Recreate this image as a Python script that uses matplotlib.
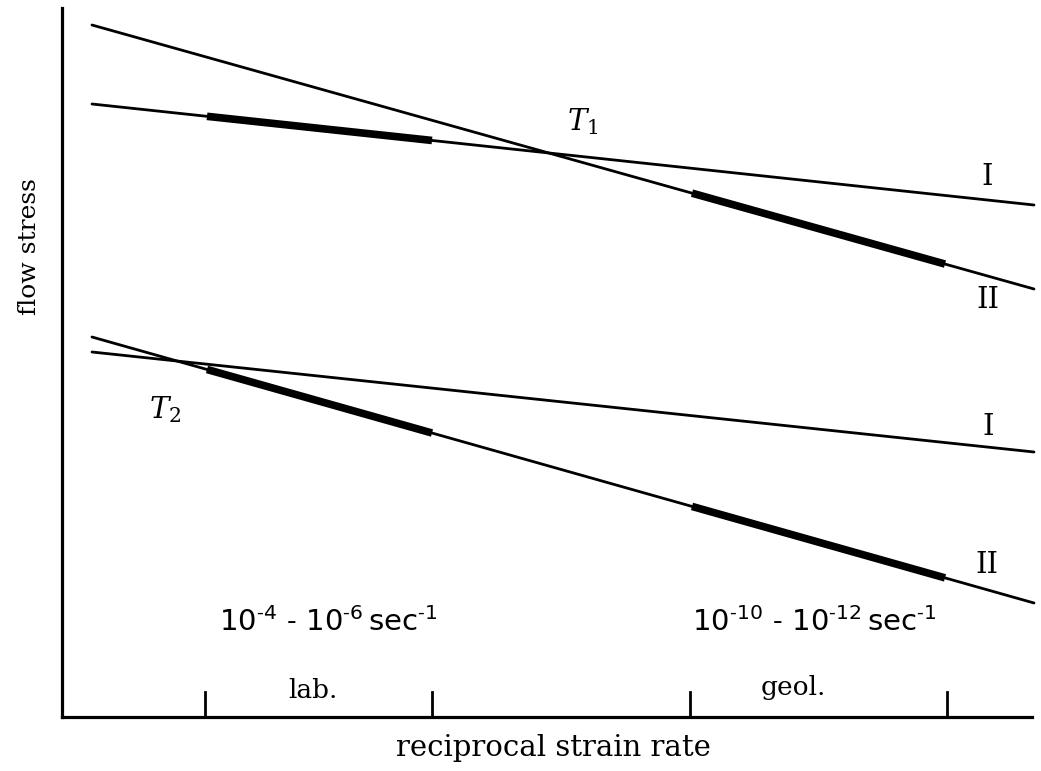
import numpy as np
import matplotlib.pyplot as plt

plt.rcParams['mathtext.fontset'] = 'custom'
plt.rcParams['mathtext.rm'] = 'Liberation Sans'

# straight lines (reciprocal strain rate, flow stress) in arbitrary units
line_x = [30, 972]
upper_I = [613, 512]
upper_II = [692, 428]
lower_I = [365, 265]
lower_II = [380, 114]

# strain-rate windows (thick parts of the lines)
lab_range = [145, 370]
geol_range = [630, 883]
ticks = [143, 370, 628, 885]

fig = plt.figure(figsize=(10.41, 7.71), dpi=100)
ax = fig.add_axes([62 / 1041, 54 / 771, 970 / 1041, 709 / 771])
ax.set_xlim(0, 970)
ax.set_ylim(0, 709)
for s in ['top', 'right']:
    ax.spines[s].set_visible(False)
for s in ['left', 'bottom']:
    ax.spines[s].set_linewidth(2.3)
ax.set_xticks([])
ax.set_yticks([])

def seg(ys, xr):
    return xr, np.interp(xr, line_x, ys)

for ys in [upper_I, upper_II, lower_I, lower_II]:
    ax.plot(line_x, ys, color='black', lw=2, solid_capstyle='round', clip_on=False)

for ys, xr in [(upper_I, lab_range), (upper_II, geol_range),
               (lower_II, lab_range), (lower_II, geol_range)]:
    sx, sy = seg(ys, xr)
    ax.plot(sx, sy, color='black', lw=5.5, solid_capstyle='butt')

for t in ticks:
    ax.plot([t, t], [0, 25], color='black', lw=2, clip_on=False)

serif = 'DejaVu Serif'
ax.text(521, 595, r'$T_1$', fontsize=21, ha='center', va='center',
        math_fontfamily='dejavuserif')
ax.text(103, 307, r'$T_2$', fontsize=21, ha='center', va='center',
        math_fontfamily='dejavuserif')
ax.text(925, 540, 'I', family=serif, fontsize=21, ha='center', va='center')
ax.text(926, 417, 'II', family=serif, fontsize=21, ha='center', va='center')
ax.text(926, 290, 'I', family=serif, fontsize=21, ha='center', va='center')
ax.text(925, 152, 'II', family=serif, fontsize=21, ha='center', va='center')

ax.text(266, 95, r'$\mathregular{10^{\text{-}4}\ \text{-}\ 10^{\text{-}6}\,sec^{\text{-}1}}$',
        fontsize=21, ha='center', va='center')
ax.text(752, 95, r'$\mathregular{10^{\text{-}10}\ \text{-}\ 10^{\text{-}12}\,sec^{\text{-}1}}$',
        fontsize=21, ha='center', va='center')
ax.text(251, 27, 'lab.', family=serif, fontsize=19, ha='center', va='center')
ax.text(731, 29, 'geol.', family=serif, fontsize=19, ha='center', va='center')

ax.text(491, -31, 'reciprocal strain rate', family=serif, fontsize=21,
        ha='center', va='center', clip_on=False)
ax.text(-33, 470, 'flow stress', family=serif, fontsize=18, rotation=90,
        ha='center', va='center', clip_on=False)

fig.savefig('out.png', dpi=100)
